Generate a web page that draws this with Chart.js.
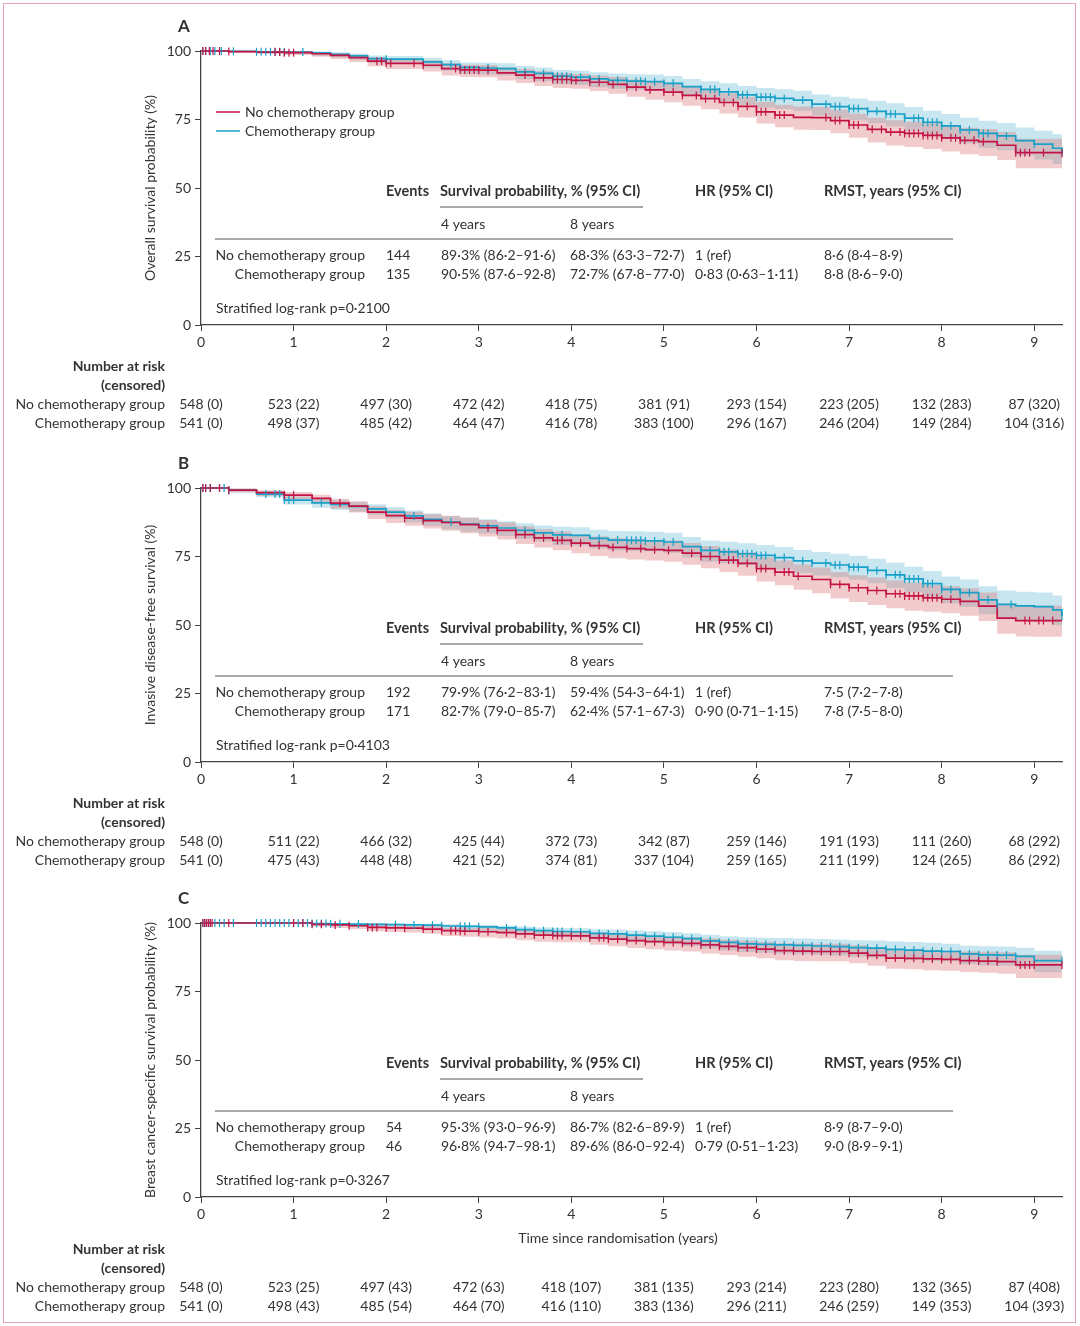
<!DOCTYPE html>
<html>
<head>
<meta charset="utf-8">
<script src="https://cdn.jsdelivr.net/npm/chart.js@4.4.1/dist/chart.umd.min.js"></script>
<style>
  body { margin: 0; background: #fff; }
  .page { position: relative; width: 1080px; height: 1326px; overflow: hidden; }
  .frame { position: absolute; left: 3px; top: 3px; width: 1073px; height: 1320px; border: 1.5px solid #e6a3bd; box-sizing: border-box; }
  .panel { position: absolute; left: 0; width: 1080px; }
</style>
</head>
<body>
<div class="page">
  <div class="frame"></div>
  <div class="panel" style="top:0;height:437px"><canvas id="chartA"></canvas></div>
  <div class="panel" style="top:437px;height:435px"><canvas id="chartB"></canvas></div>
  <div class="panel" style="top:872px;height:454px"><canvas id="chartC"></canvas></div>
</div>
<script>
// time grid (years) shared by every curve; value i holds from years[i] to years[i+1]
const years = [0, 0.3, 0.6, 0.9, 1.2, 1.4, 1.6, 1.8, 2.0, 2.2, 2.4, 2.6, 2.8, 3.0, 3.2, 3.4, 3.6, 3.8, 4.0, 4.2, 4.4, 4.6, 4.8, 5.0, 5.2, 5.4, 5.6, 5.8, 6.0, 6.2, 6.4, 6.6, 6.8, 7.0, 7.2, 7.4, 7.6, 7.8, 8.0, 8.2, 8.4, 8.6, 8.8, 9.0, 9.2, 9.3];
const xTicks = [0, 1, 2, 3, 4, 5, 6, 7, 8, 9];
const groups = ["No chemotherapy group", "Chemotherapy group"];

// A: overall survival
const osNo = [100,99.8,99.6,99.4,99.0,98.4,97.6,96.3,95.5,95.5,94.8,93.6,93.1,93.0,92.0,91.2,90.2,89.6,89.3,88.6,87.8,86.8,85.8,85.0,83.8,82.6,81.2,79.8,77.8,76.6,75.8,75.7,74.6,73.0,71.4,70.4,69.9,69.2,68.3,67.4,66.9,65.6,62.9,62.9,62.9,62.7];
const osNoLo = [100,99.3,98.9,98.5,97.9,97.1,96.0,94.4,93.4,93.4,92.5,91.1,90.5,90.4,89.2,88.3,87.2,86.5,86.2,85.4,84.4,83.3,82.2,81.3,80.0,78.7,77.2,75.7,73.5,72.2,71.3,71.2,70.0,68.3,66.6,65.5,65.0,64.2,63.3,62.3,61.7,60.2,57.2,57.2,57.2,57.0];
const osNoHi = [100,100,100,100,99.6,99.2,98.6,97.6,97.0,97.0,96.5,95.5,95.0,94.9,94.1,93.4,92.6,92.0,91.6,91.1,90.5,89.6,88.7,88.0,87.0,85.9,84.6,83.3,81.5,80.4,79.7,79.6,78.6,77.1,75.6,74.7,74.2,73.6,72.7,72.0,71.5,70.4,68.0,68.0,68.0,67.9];
const osChemo = [100,99.9,99.7,99.6,99.3,98.8,98.2,97.2,97.0,97.0,96.0,95.0,94.0,93.8,93.6,92.4,91.8,90.8,90.5,89.8,89.3,89.0,88.8,88.2,87.0,86.0,85.1,84.0,83.2,82.7,82.1,80.6,79.7,79.0,78.0,77.0,75.5,74.0,72.7,71.2,69.9,69.0,67.3,66.0,64.5,63.2];
const osChemoLo = [100,99.5,99.1,98.8,98.3,97.6,96.8,95.6,95.3,95.3,94.0,92.8,91.6,91.4,91.1,89.7,89.0,87.9,87.6,86.8,86.2,85.9,85.6,84.9,83.6,82.5,81.5,80.3,79.4,78.8,78.2,76.5,75.5,74.7,73.6,72.5,70.9,69.2,67.8,66.2,64.7,63.8,61.9,60.4,58.8,57.4];
const osChemoHi = [100,100,100,100,99.8,99.5,99.1,98.4,98.2,98.2,97.5,96.7,95.8,95.7,95.5,94.5,94.0,93.1,92.8,92.2,91.8,91.5,91.4,90.9,89.8,89.0,88.2,87.2,86.5,86.0,85.5,84.1,83.3,82.7,81.8,80.9,79.6,78.2,77.0,75.6,74.5,73.7,72.1,70.9,69.6,68.4];
const censOsNo = [0.02,0.05,0.09,0.13,0.2,0.3,0.8,0.85,0.9,0.95,1.0,1.9,1.95,2.0,2.05,2.3,2.4,2.75,2.8,2.85,2.9,2.95,3.0,3.1,3.5,3.6,3.7,3.8,3.85,3.9,3.95,4.0,4.05,4.2,4.3,4.45,4.6,4.7,4.85,5.0,5.1,5.2,5.35,5.45,5.55,5.65,5.75,5.8,5.9,6.0,6.05,6.1,6.2,6.25,6.3,6.75,6.85,6.9,7.0,7.05,7.1,7.25,7.35,7.45,7.55,7.6,7.65,7.7,7.75,7.8,7.85,7.9,7.95,8.0,8.1,8.15,8.2,8.25,8.35,8.45,8.8,8.85,8.9,8.95,9.1,9.3];
const censOsChemo = [0.02,0.05,0.1,0.15,0.22,0.35,0.6,0.65,0.7,0.75,0.8,0.85,0.9,1.1,2.0,2.7,2.8,3.1,3.5,3.7,3.8,3.85,3.9,3.95,4.0,4.1,4.2,4.3,4.5,4.6,4.7,4.75,4.8,4.9,5.0,5.1,5.4,5.5,5.55,5.6,5.7,5.8,5.85,5.9,6.0,6.05,6.1,6.15,6.2,6.3,6.5,6.6,6.75,6.85,6.9,7.0,7.05,7.1,7.2,7.3,7.4,7.45,7.5,7.6,7.7,7.75,7.8,7.85,7.9,7.95,8.0,8.1,8.2,8.3,8.4,8.45,8.5,8.6,8.7,9.0,9.3];

// B: invasive disease-free survival
const idfsNo = [100,99.2,98.3,97.4,96.2,94.5,93.4,91.2,89.9,89.0,88.1,87.4,86.6,85.5,84.5,83.0,81.8,80.9,79.9,79.0,78.3,77.9,77.5,77.2,76.2,75.0,73.7,72.5,70.6,69.3,67.8,66.6,64.8,63.6,62.6,61.4,60.6,59.9,59.4,58.6,56.9,52.5,51.6,51.6,51.6,51.6];
const idfsNoLo = [100,98.4,97.1,95.9,94.4,92.4,91.1,88.7,87.2,86.2,85.2,84.4,83.5,82.3,81.2,79.6,78.3,77.3,76.2,75.2,74.4,73.9,73.5,73.1,72.0,70.7,69.3,68.0,65.9,64.5,62.9,61.6,59.7,58.4,57.3,56.1,55.2,54.8,54.3,53.4,51.5,46.8,45.8,45.7,45.7,45.7];
const idfsNoHi = [100,99.8,99.2,98.5,97.5,96.1,95.2,93.3,92.1,91.3,90.5,89.9,89.2,88.3,87.4,86.0,84.9,84.1,83.1,82.3,81.7,81.3,81.0,80.8,79.9,78.8,77.6,76.5,74.7,73.5,72.1,71.0,69.3,68.2,67.3,66.2,65.4,64.6,64.1,63.4,61.9,57.8,57.0,57.0,57.0,57.0];
const idfsChemo = [100,99.2,97.8,95.6,94.6,94.0,93.3,92.4,91.2,89.8,88.6,87.6,86.8,86.2,85.4,84.5,83.6,82.9,82.7,81.6,81.0,80.9,80.7,80.3,78.6,77.2,76.7,76.0,75.4,74.6,73.4,72.6,71.9,71.1,69.9,68.3,66.8,65.1,63.0,61.8,59.2,57.5,57.0,56.7,55.5,53.3];
const idfsChemoLo = [100,98.4,96.6,94.0,92.8,92.1,91.3,90.2,88.9,87.4,86.1,84.9,84.0,83.4,82.5,81.5,80.5,79.2,79.0,77.9,77.2,77.1,76.9,76.4,74.6,73.1,72.5,71.8,71.1,70.3,69.0,68.1,67.4,66.5,65.2,63.5,61.9,60.1,57.9,56.6,53.9,52.1,51.5,51.2,49.9,47.6];
const idfsChemoHi = [100,99.8,98.7,96.9,96.0,95.5,94.9,94.1,93.1,91.8,90.7,89.8,89.1,88.6,87.9,87.1,86.3,85.9,85.7,84.8,84.3,84.2,84.0,83.7,82.1,80.8,80.4,79.8,79.2,78.5,77.4,76.6,76.0,75.3,74.2,72.7,71.3,69.7,67.7,66.6,64.1,62.6,62.1,61.9,60.8,58.8];
const censIdfsNo = [0.02,0.05,0.1,0.2,0.3,0.9,1.0,1.5,2.2,2.4,3.1,3.2,3.4,3.5,3.6,3.7,3.85,3.9,4.0,4.1,4.3,4.45,4.6,4.75,4.9,5.05,5.3,5.4,5.5,5.6,5.7,5.75,5.8,5.9,6.0,6.05,6.1,6.2,6.3,6.35,6.45,6.8,6.9,7.0,7.1,7.2,7.3,7.4,7.5,7.55,7.6,7.65,7.7,7.75,7.8,7.85,7.9,7.95,8.0,8.1,8.2,8.9,8.95,9.05,9.1,9.2];
const censIdfsChemo = [0.02,0.05,0.1,0.2,0.25,0.3,0.7,0.8,0.85,0.9,0.95,1.0,1.3,2.3,2.4,2.7,3.5,3.6,3.9,4.3,4.5,4.6,4.65,4.7,4.75,4.8,4.9,5.0,5.1,5.4,5.5,5.6,5.65,5.7,5.8,5.85,5.9,5.95,6.0,6.05,6.1,6.2,6.3,6.5,6.6,6.75,6.85,6.9,7.0,7.05,7.1,7.2,7.3,7.4,7.5,7.55,7.6,7.65,7.7,7.75,7.8,7.85,7.9,8.0,8.1,8.2,8.3,8.5,8.6,8.75,9.3];

// C: breast cancer-specific survival
const bcssNo = [100,100,100,100,99.5,99.3,99.0,98.4,98.2,98.1,97.8,97.2,97.0,96.8,96.5,96.0,95.6,95.4,95.3,94.6,94.1,93.6,93.2,92.9,92.6,92.0,91.5,91.0,90.5,89.9,89.7,89.6,89.6,89.0,88.2,87.2,87.1,86.9,86.7,86.3,86.1,85.9,84.7,84.7,84.7,84.7];
const bcssNoLo = [100,100,100,100,98.6,98.2,97.8,97.0,96.7,96.5,96.1,95.3,95.0,94.7,94.3,93.7,93.2,93.0,93.0,92.1,91.5,90.9,90.4,90.0,89.6,88.9,88.3,87.7,87.1,86.4,86.1,86.0,86.0,85.3,84.4,83.3,83.1,82.8,82.6,82.1,81.8,81.5,79.9,79.9,79.9,79.9];
const bcssNoHi = [100,100,100,100,99.9,99.8,99.6,99.2,99.0,98.9,98.8,98.3,98.2,98.1,97.9,97.5,97.2,97.0,96.9,96.3,95.9,95.5,95.2,95.0,94.8,94.3,93.9,93.5,93.1,92.6,92.5,92.4,92.4,91.9,91.2,90.3,90.3,90.1,89.9,89.6,89.5,89.3,88.4,88.4,88.4,88.4];
const bcssChemo = [100,100,100,100,99.8,99.7,99.6,99.5,99.4,99.3,99.2,98.9,98.8,98.6,98.2,97.6,97.2,96.9,96.8,96.2,96.0,95.6,95.2,94.8,94.3,93.5,92.9,92.4,92.2,92.0,91.8,91.6,91.4,91.0,90.8,90.4,90.1,89.7,89.6,88.7,88.4,88.3,87.8,86.3,86.3,86.3];
const bcssChemoLo = [100,100,100,100,99.2,99.0,98.8,98.6,98.4,98.2,98.0,97.6,97.4,97.1,96.6,95.8,95.3,94.9,94.7,94.0,93.7,93.2,92.7,92.2,91.6,90.7,90.0,89.4,89.1,88.9,88.6,88.4,88.1,87.7,87.4,86.9,86.6,86.1,86.0,84.9,84.5,84.4,83.8,82.0,82.0,82.0];
const bcssChemoHi = [100,100,100,100,100,100,99.9,99.8,99.8,99.7,99.7,99.5,99.4,99.3,99.1,98.7,98.4,98.2,98.1,97.7,97.6,97.3,97.0,96.7,96.3,95.7,95.2,94.8,94.6,94.5,94.3,94.2,94.0,93.7,93.6,93.3,93.1,92.8,92.4,91.7,91.5,91.4,91.0,89.9,89.9,89.9];
const censBcssNo = [0.02,0.04,0.06,0.08,0.1,0.12,0.3,1.0,1.1,1.2,1.3,1.45,1.6,1.8,1.85,1.9,2.0,2.1,2.2,2.4,2.5,2.6,2.7,2.75,2.8,2.85,3.0,3.1,3.3,3.4,3.5,3.6,3.7,3.8,3.85,3.9,4.0,4.1,4.2,4.3,4.35,4.4,4.5,4.6,4.7,4.8,4.9,5.0,5.1,5.2,5.3,5.4,5.5,5.6,5.7,5.8,5.9,6.0,6.1,6.2,6.3,6.4,6.5,6.6,6.7,6.8,6.9,7.0,7.1,7.2,7.3,7.4,7.5,7.6,7.7,7.8,7.9,8.0,8.1,8.2,8.3,8.4,8.5,8.6,8.85,8.9,8.95,9.0,9.3];
const censBcssChemo = [0.02,0.04,0.06,0.1,0.15,0.2,0.25,0.35,0.6,0.65,0.7,0.75,0.8,0.85,0.9,0.95,1.0,1.05,1.1,1.15,1.2,1.25,1.3,1.35,1.4,1.5,1.7,2.1,2.3,2.5,2.6,2.8,2.85,2.9,3.0,3.3,3.4,3.5,3.6,3.7,3.8,3.85,3.9,4.0,4.1,4.2,4.3,4.4,4.5,4.6,4.7,4.8,4.9,5.0,5.1,5.2,5.3,5.4,5.5,5.6,5.7,5.8,5.9,6.0,6.1,6.2,6.3,6.4,6.5,6.6,6.7,6.8,6.9,7.0,7.1,7.2,7.3,7.4,7.5,7.6,7.7,7.8,7.9,8.0,8.1,8.2,8.3,8.4,8.5,8.6,8.7,8.8,9.3];

// number at risk (censored) at years 0..9
const riskOsNo = [548,523,497,472,418,381,293,223,132,87];
const censCountOsNo = [0,22,30,42,75,91,154,205,283,320];
const riskOsChemo = [541,498,485,464,416,383,296,246,149,104];
const censCountOsChemo = [0,37,42,47,78,100,167,204,284,316];
const riskIdfsNo = [548,511,466,425,372,342,259,191,111,68];
const censCountIdfsNo = [0,22,32,44,73,87,146,193,260,292];
const riskIdfsChemo = [541,475,448,421,374,337,259,211,124,86];
const censCountIdfsChemo = [0,43,48,52,81,104,165,199,265,292];
const riskBcssNo = [548,523,497,472,418,381,293,223,132,87];
const censCountBcssNo = [0,25,43,63,107,135,214,280,365,408];
const riskBcssChemo = [541,498,485,464,416,383,296,246,149,104];
const censCountBcssChemo = [0,43,54,70,110,136,211,259,353,393];

// inset summary tables
const tableHead = ["Events", "Survival probability, % (95% CI)", "HR (95% CI)", "RMST, years (95% CI)"];
const tableSub = ["4 years", "8 years"];
const summaryOs = [["144", "89·3% (86·2–91·6)", "68·3% (63·3–72·7)", "1 (ref)", "8·6 (8·4–8·9)"],
                   ["135", "90·5% (87·6–92·8)", "72·7% (67·8–77·0)", "0·83 (0·63–1·11)", "8·8 (8·6–9·0)"]];
const summaryIdfs = [["192", "79·9% (76·2–83·1)", "59·4% (54·3–64·1)", "1 (ref)", "7·5 (7·2–7·8)"],
                     ["171", "82·7% (79·0–85·7)", "62·4% (57·1–67·3)", "0·90 (0·71–1·15)", "7·8 (7·5–8·0)"]];
const summaryBcss = [["54", "95·3% (93·0–96·9)", "86·7% (82·6–89·9)", "1 (ref)", "8·9 (8·7–9·0)"],
                     ["46", "96·8% (94·7–98·1)", "89·6% (86·0–92·4)", "0·79 (0·51–1·23)", "9·0 (8·9–9·1)"]];

const RED = "#c41244";
const BLUE = "#17a0c8";
const RED_BAND = "rgba(215,100,100,0.33)";
const BLUE_BAND = "rgba(98,184,212,0.35)";
const INK = "#333";
const FONT = "Lato";

function kmAt(vals, t) {
  let i = 0;
  while (i + 1 < years.length && years[i + 1] <= t) i++;
  return vals[i];
}

function drawPanelText(chart, cfg) {
  const ctx = chart.ctx;
  const top = chart.chartArea.top;
  const xs = chart.scales.x;
  ctx.save();
  ctx.fillStyle = INK;
  ctx.textBaseline = "middle";
  ctx.textAlign = "left";

  ctx.font = "bold 17px " + FONT;
  ctx.fillText(cfg.letter, 178, top - 24);

  if (cfg.legend) {
    [RED, BLUE].forEach((c, i) => {
      const y = top + 61 + i * 19;
      ctx.strokeStyle = c;
      ctx.lineWidth = 1.5;
      ctx.beginPath(); ctx.moveTo(216, y); ctx.lineTo(240, y); ctx.stroke();
      ctx.font = "14px " + FONT;
      ctx.fillText(groups[i], 245, y);
    });
  }

  // summary table inside the plot
  ctx.font = "bold 14.5px " + FONT;
  ctx.fillText(tableHead[0], 386, top + 140);
  ctx.fillText(tableHead[1], 440, top + 140);
  ctx.fillText(tableHead[2], 695, top + 140);
  ctx.fillText(tableHead[3], 824, top + 140);
  ctx.strokeStyle = "#555";
  ctx.lineWidth = 1.2;
  ctx.beginPath(); ctx.moveTo(440, top + 156); ctx.lineTo(643, top + 156); ctx.stroke();
  ctx.beginPath(); ctx.moveTo(215, top + 188); ctx.lineTo(953, top + 188); ctx.stroke();
  ctx.font = "14px " + FONT;
  ctx.fillText(tableSub[0], 441, top + 173);
  ctx.fillText(tableSub[1], 570, top + 173);
  const cols = [386, 441, 570, 695, 824];
  cfg.summary.forEach((row, r) => {
    const y = top + 204 + r * 19;
    ctx.textAlign = "right";
    ctx.fillText(groups[r], 365, y);
    ctx.textAlign = "left";
    row.forEach((s, c) => ctx.fillText(s, cols[c], y));
  });
  ctx.fillText("Stratified log-rank p=" + cfg.p, 216, top + 257);

  // x axis title
  if (cfg.xTitle) {
    ctx.textAlign = "center";
    ctx.fillText(cfg.xTitle, 618, cfg.xTitleY);
  }

  // number at risk table under the axis
  const ry = cfg.riskY;
  ctx.textAlign = "right";
  ctx.font = "bold 14px " + FONT;
  ctx.fillText("Number at risk", 165, ry);
  ctx.fillText("(censored)", 165, ry + 19);
  ctx.font = "14px " + FONT;
  ctx.fillText(groups[0], 165, ry + 38);
  ctx.fillText(groups[1], 165, ry + 57);
  ctx.textAlign = "center";
  xTicks.forEach((t, i) => {
    const px = xs.getPixelForValue(t);
    ctx.fillText(cfg.riskNo[i] + " (" + cfg.censNoCount[i] + ")", px, ry + 38);
    ctx.fillText(cfg.riskChemo[i] + " (" + cfg.censChemoCount[i] + ")", px, ry + 57);
  });
  ctx.restore();
}

function makePanel(id, height, cfg) {
  const pts = v => years.map((t, i) => ({ x: t, y: v[i] }));
  const marks = (times, v) => times.map(t => ({ x: t, y: kmAt(v, t) }));
  // blue band under the red band, so the overlap comes out mauve-grey
  const band = (v, color, order, target) => ({
    data: pts(v), stepped: true, borderWidth: 0, pointRadius: 0,
    backgroundColor: color, fill: target === undefined ? false : { target: target }, order: order
  });
  const tickAxis = {
    color: INK, font: { family: FONT, size: 14 }
  };
  new Chart(document.getElementById(id), {
    type: "line",
    data: {
      datasets: [
        { data: marks(cfg.censNo, cfg.no), showLine: false, pointStyle: "line", rotation: 90, pointRadius: 4, borderColor: RED, borderWidth: 1.2, order: 1 },
        { data: marks(cfg.censChemo, cfg.chemo), showLine: false, pointStyle: "line", rotation: 90, pointRadius: 4, borderColor: BLUE, borderWidth: 1.2, order: 1 },
        { data: pts(cfg.no), stepped: true, borderColor: RED, borderWidth: 1.7, pointRadius: 0, fill: false, order: 2 },
        { data: pts(cfg.chemo), stepped: true, borderColor: BLUE, borderWidth: 1.7, pointRadius: 0, fill: false, order: 2 },
        band(cfg.noLo, RED_BAND, 3),
        band(cfg.noHi, RED_BAND, 3, 4),
        band(cfg.chemoLo, BLUE_BAND, 4),
        band(cfg.chemoHi, BLUE_BAND, 4, 6)
      ]
    },
    options: {
      responsive: true,
      maintainAspectRatio: false,
      animation: false,
      events: [],
      clip: false,
      layout: { padding: { left: 138, right: 18, top: 51, bottom: height - 355 } },
      scales: {
        x: {
          type: "linear", min: 0, max: 9.3,
          afterFit: s => { s.height = 30; },
          ticks: Object.assign({ stepSize: 1, includeBounds: false, padding: 3, maxRotation: 0 }, tickAxis),
          grid: { drawOnChartArea: false, tickLength: 6, color: "#444" },
          border: { color: "#444", width: 1.3 }
        },
        y: {
          min: 0, max: 100,
          afterFit: s => { s.width = 63; },
          ticks: Object.assign({ stepSize: 25, padding: 4 }, tickAxis),
          grid: { drawOnChartArea: false, tickLength: 6, color: "#444" },
          border: { color: "#444", width: 1.3 },
          title: { display: true, text: cfg.yTitle, color: INK, font: { family: FONT, size: 14 }, padding: { top: 4, bottom: 0 } }
        }
      },
      plugins: { legend: { display: false }, tooltip: { enabled: false } }
    },
    plugins: [{ id: "panelText", afterDraw: chart => drawPanelText(chart, cfg) }]
  });
}

makePanel("chartA", 437, {
  letter: "A", legend: true, yTitle: "Overall survival probability (%)",
  no: osNo, noLo: osNoLo, noHi: osNoHi, chemo: osChemo, chemoLo: osChemoLo, chemoHi: osChemoHi,
  censNo: censOsNo, censChemo: censOsChemo,
  summary: summaryOs, p: "0·2100",
  riskY: 366, riskNo: riskOsNo, censNoCount: censCountOsNo, riskChemo: riskOsChemo, censChemoCount: censCountOsChemo
});

makePanel("chartB", 435, {
  letter: "B", legend: false, yTitle: "Invasive disease-free survival (%)",
  no: idfsNo, noLo: idfsNoLo, noHi: idfsNoHi, chemo: idfsChemo, chemoLo: idfsChemoLo, chemoHi: idfsChemoHi,
  censNo: censIdfsNo, censChemo: censIdfsChemo,
  summary: summaryIdfs, p: "0·4103",
  riskY: 366, riskNo: riskIdfsNo, censNoCount: censCountIdfsNo, riskChemo: riskIdfsChemo, censChemoCount: censCountIdfsChemo
});

makePanel("chartC", 454, {
  letter: "C", legend: false, yTitle: "Breast cancer-specific survival probability (%)",
  no: bcssNo, noLo: bcssNoLo, noHi: bcssNoHi, chemo: bcssChemo, chemoLo: bcssChemoLo, chemoHi: bcssChemoHi,
  censNo: censBcssNo, censChemo: censBcssChemo,
  summary: summaryBcss, p: "0·3267",
  xTitle: "Time since randomisation (years)", xTitleY: 366,
  riskY: 377, riskNo: riskBcssNo, censNoCount: censCountBcssNo, riskChemo: riskBcssChemo, censChemoCount: censCountBcssChemo
});
</script>
</body>
</html>
